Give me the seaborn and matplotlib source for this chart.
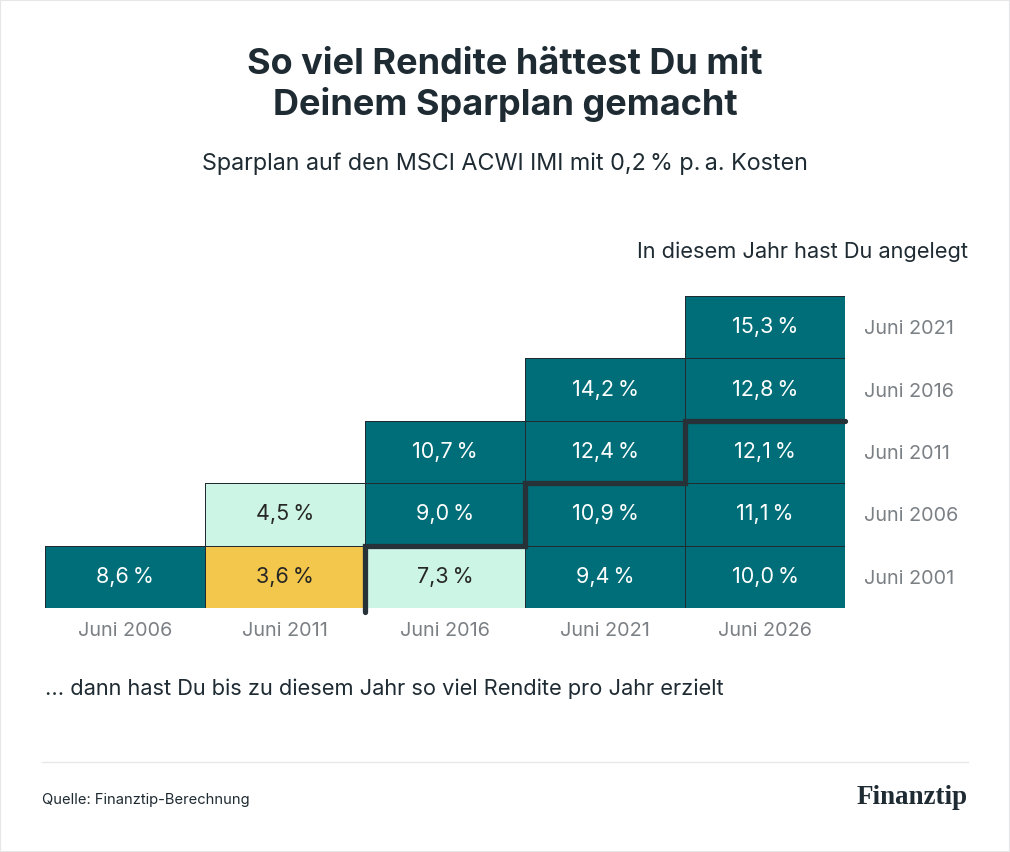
import numpy as np
import pandas as pd
import matplotlib.pyplot as plt
import seaborn as sns
from matplotlib.colors import ListedColormap, BoundaryNorm, to_rgba
from matplotlib.patches import Rectangle

# Daten: Rendite p. a. je Anlagejahr (Zeilen) und Endjahr (Spalten)
end_years = ["Juni 2006", "Juni 2011", "Juni 2016", "Juni 2021", "Juni 2026"]
start_years = ["Juni 2021", "Juni 2016", "Juni 2011", "Juni 2006", "Juni 2001"]
row_2021 = [np.nan, np.nan, np.nan, np.nan, 15.3]
row_2016 = [np.nan, np.nan, np.nan, 14.2, 12.8]
row_2011 = [np.nan, np.nan, 10.7, 12.4, 12.1]
row_2006 = [np.nan, 4.5, 9.0, 10.9, 11.1]
row_2001 = [8.6, 3.6, 7.3, 9.4, 10.0]

df = pd.DataFrame([row_2021, row_2016, row_2011, row_2006, row_2001],
                  index=start_years, columns=end_years)
labels = df.map(lambda v: "" if pd.isna(v) else f"{v:.1f}".replace(".", ",") + "\u200a\u200a%")

sns.set_theme(style="white")
plt.rcParams['font.family'] = ['Inter', 'DejaVu Sans']

dark = "#1f2b33"
grey = "#7b8085"
cmap = ListedColormap(["#f2c74c", "#cdf5e5", "#006e78"])
norm = BoundaryNorm([0, 4, 8, 100], cmap.N)

fig = plt.figure(figsize=(10.1, 8.52), dpi=100)
ax = fig.add_axes([45 / 1010, 1 - 608 / 852, 800 / 1010, 312 / 852])

sns.heatmap(df, ax=ax, cmap=cmap, norm=norm, cbar=False,
            annot=labels, fmt="", annot_kws={"fontsize": 15.5},
            linewidths=0.55, linecolor="#1f2b31", mask=df.isna())

# keine Rahmen um leere Zellen
mesh = ax.collections[0]
edge = [to_rgba("#1f2b31") if not np.isnan(v) else (0, 0, 0, 0)
        for v in df.values.ravel()]
mesh.set_edgecolor(edge)

# Schwellenlinie (Treppe)
step_x = [2, 2, 3, 3, 4, 4, 5]
step_y = [5.06, 4, 4, 3, 3, 2, 2]
ax.plot(step_x, step_y, color="#263238", lw=3.8, solid_capstyle="round",
        solid_joinstyle="miter", clip_on=False, zorder=5)

ax.yaxis.tick_right()
ax.tick_params(axis="y", length=0, pad=14, labelsize=14.3, labelcolor=grey, rotation=0)
ax.tick_params(axis="x", length=0, pad=10, labelsize=14.3, labelcolor=grey, rotation=0)
for lab in ax.get_yticklabels():
    lab.set_horizontalalignment("left")
ax.set_xlabel("")
ax.set_ylabel("")

# Texte
fig.text(0.5, 1 - 64 / 852, "So viel Rendite hättest Du mit", ha="center", va="center",
         fontsize=26, fontweight="bold", color=dark)
fig.text(0.5, 1 - 105 / 852, "Deinem Sparplan gemacht", ha="center", va="center",
         fontsize=26, fontweight="bold", color=dark)
fig.text(0.5, 1 - 164 / 852, "Sparplan auf den MSCI ACWI IMI mit 0,2\u2009% p.\u2009a. Kosten",
         ha="center", va="center", fontsize=16.8, color=dark)
fig.text(968 / 1010, 1 - 252 / 852, "In diesem Jahr hast Du angelegt", ha="right",
         va="center", fontsize=15.7, color=dark)
fig.text(45 / 1010, 1 - 689 / 852,
         "... dann hast Du bis zu diesem Jahr so viel Rendite pro Jahr erzielt",
         ha="left", va="center", fontsize=15.7, color=dark)

fig.add_artist(plt.Line2D([42 / 1010, 968 / 1010], [1 - 762 / 852, 1 - 762 / 852],
                          color="#e6e8ea", lw=1))
fig.text(42 / 1010, 1 - 800 / 852, "Quelle: Finanztip-Berechnung", ha="left", va="center",
         fontsize=10.6, color=dark)
fig.text(968 / 1010, 1 - 798 / 852, "Finanztip", ha="right", va="center",
         fontsize=19.5, fontweight="bold", family="Liberation Serif", color=dark)

fig.add_artist(Rectangle((0, 0), 1, 1, transform=fig.transFigure, fill=False,
                         edgecolor="#e4e6e8", lw=1.5))

fig.savefig("out.png", dpi=100, facecolor="white")
